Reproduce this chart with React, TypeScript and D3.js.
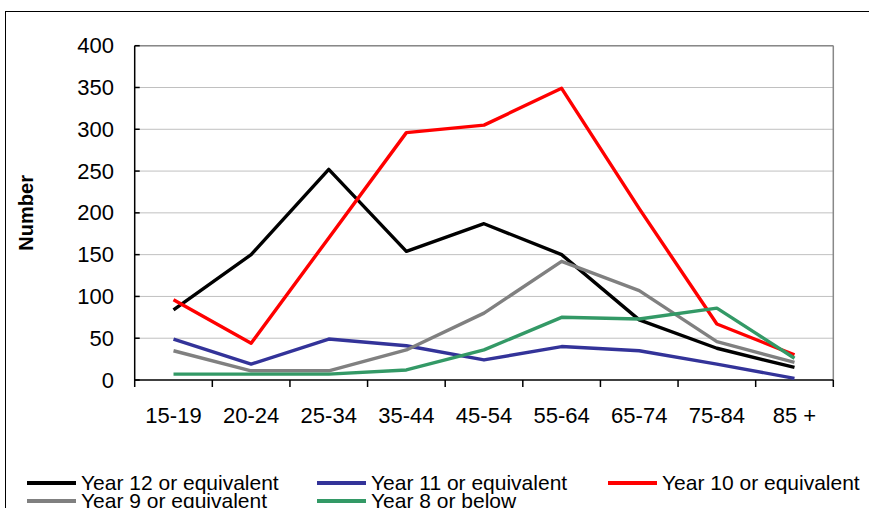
import React from "react";
import * as d3 from "d3";

const categories = ["15-19", "20-24", "25-34", "35-44", "45-54", "55-64", "65-74", "75-84", "85 +"];
const year12 = [84, 150, 252, 154, 187, 150, 72, 38, 15];
const year11 = [49, 19, 49, 41, 24, 40, 35, 19, 2];
const year10 = [96, 44, 170, 296, 305, 349, 205, 67, 30];
const year9 = [35, 11, 11, 36, 80, 142, 107, 46, 21];
const year8 = [7, 7, 7, 12, 36, 75, 73, 86, 26];
const yTicks = [0, 50, 100, 150, 200, 250, 300, 350, 400];

const seriesNames = [
  "Year 12 or equivalent",
  "Year 11 or equivalent",
  "Year 10 or equivalent",
  "Year 9 or equivalent",
  "Year 8 or below",
];
const seriesValues = [year12, year11, year10, year9, year8];
const seriesColors = ["#000000", "#333399", "#ff0000", "#808080", "#339966"];

export default function App() {
  const W = 869;
  const H = 508;
  const left = 134.7;
  const right = 833.3;
  const top = 45.7;
  const bottom = 380;
  const font = "Arial, 'Liberation Sans', sans-serif";

  const x = d3.scaleBand<string>().domain(categories).range([left, right]).padding(0);
  const y = d3.scaleLinear().domain([0, 400]).range([bottom, top]);
  const cx = (c: string) => (x(c) as number) + x.bandwidth() / 2;

  const line = d3
    .line<number>()
    .x((_, i) => cx(categories[i]))
    .y((d) => y(d));

  const legendPos = [
    { lx: 27, ly: 483 },
    { lx: 317, ly: 483 },
    { lx: 608, ly: 483 },
    { lx: 27, ly: 501 },
    { lx: 317, ly: 501 },
  ];

  const boundaries = [...categories.map((c) => x(c) as number), right];

  return (
    <svg
      width={W}
      height={H}
      style={{ position: "absolute", left: 0, top: 0, background: "#fff" }}
      fontFamily={font}
    >
      <rect x={0} y={0} width={W} height={H} fill="#fff" />
      <rect x={5.5} y={11.5} width={900} height={600} fill="none" stroke="#000" strokeWidth={1} />

      {/* gridlines */}
      {yTicks.slice(1).map((t) => (
        <line key={"g" + t} x1={left} x2={right} y1={y(t)} y2={y(t)} stroke="#c0c0c0" strokeWidth={1} />
      ))}
      {/* plot border top/right */}
      <line x1={left} x2={right} y1={top} y2={top} stroke="#888" strokeWidth={1.5} />
      <line x1={right} x2={right} y1={top} y2={bottom} stroke="#888" strokeWidth={1.5} />

      {/* y axis */}
      <line x1={left} x2={left} y1={top} y2={bottom} stroke="#000" strokeWidth={1.5} />
      {yTicks.map((t) => (
        <g key={"yt" + t}>
          <line x1={left} x2={left + 5} y1={y(t)} y2={y(t)} stroke="#000" strokeWidth={1.5} />
          <text x={114} y={y(t) + 7.5} textAnchor="end" fontSize={22} fill="#000">
            {t}
          </text>
        </g>
      ))}

      {/* x axis */}
      <line x1={left} x2={right} y1={bottom} y2={bottom} stroke="#000" strokeWidth={1.5} />
      {boundaries.map((b, i) => (
        <line key={"xt" + i} x1={b} x2={b} y1={bottom} y2={bottom + 7} stroke="#000" strokeWidth={1.5} />
      ))}
      {categories.map((c) => (
        <text key={"xl" + c} x={cx(c)} y={422.7} textAnchor="middle" fontSize={22} fill="#000">
          {c}
        </text>
      ))}

      {/* y label */}
      <text
        transform={`translate(33, ${(top + bottom) / 2}) rotate(-90)`}
        textAnchor="middle"
        fontSize={20}
        fontWeight="bold"
        fill="#000"
      >
        Number
      </text>

      {/* series */}
      {seriesValues.map((vals, i) => (
        <path
          key={"s" + i}
          d={line(vals) || ""}
          fill="none"
          stroke={seriesColors[i]}
          strokeWidth={3.4}
          strokeLinejoin="round"
        />
      ))}

      {/* legend */}
      {seriesNames.map((n, i) => (
        <g key={"lg" + i}>
          <line
            x1={legendPos[i].lx}
            x2={legendPos[i].lx + 49}
            y1={legendPos[i].ly}
            y2={legendPos[i].ly}
            stroke={seriesColors[i]}
            strokeWidth={4}
          />
          <text x={legendPos[i].lx + 54} y={legendPos[i].ly + 7} fontSize={21} fill="#000">
            {n}
          </text>
        </g>
      ))}
    </svg>
  );
}
